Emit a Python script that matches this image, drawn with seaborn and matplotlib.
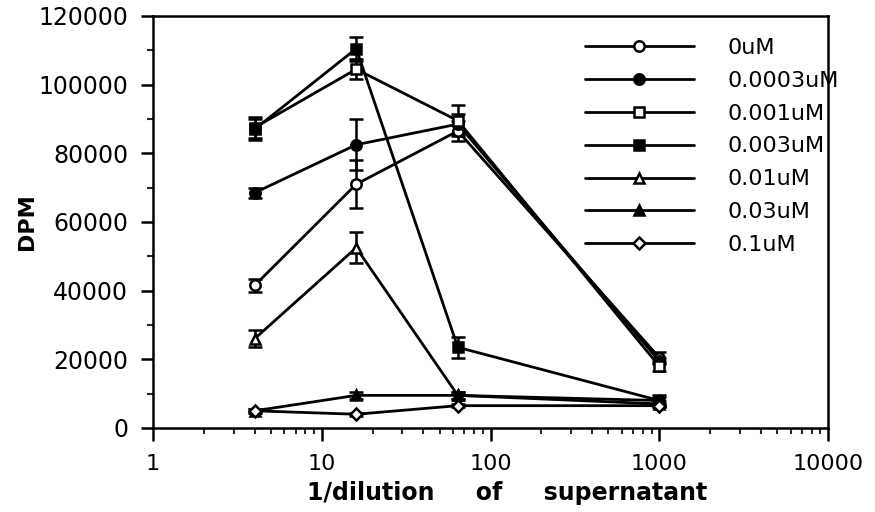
import numpy as np
import pandas as pd
import matplotlib
matplotlib.use("Agg")
import matplotlib.pyplot as plt
import seaborn as sns

# dilution factors (x) and DPM readings per concentration
dilution = [4, 16, 64, 1000]

labels = ["0uM", "0.0003uM", "0.001uM", "0.003uM", "0.01uM", "0.03uM", "0.1uM"]

dpm_0 = [41500, 71000, 86500, 20500]
dpm_00003 = [68500, 82500, 88500, 19500]
dpm_0001 = [87500, 104500, 89500, 18000]
dpm_0003 = [87000, 110500, 23500, 8000]
dpm_001 = [26000, 52500, 9500, 7000]
dpm_003 = [5000, 9500, 9500, 8000]
dpm_01 = [5000, 4000, 6500, 6500]

err_0 = [2000, 7000, 3000, 1500]
err_00003 = [1500, 7500, 3000, 1000]
err_0001 = [3000, 3000, 4500, 1500]
err_0003 = [3000, 3500, 3000, 1500]
err_001 = [2500, 4500, 1000, 1000]
err_003 = [500, 1000, 1000, 1000]
err_01 = [500, 500, 500, 500]

values = [dpm_0, dpm_00003, dpm_0001, dpm_0003, dpm_001, dpm_003, dpm_01]
errors = [err_0, err_00003, err_0001, err_0003, err_001, err_003, err_01]

markers = ["o", "o", "s", "s", "^", "^", "D"]
faces = ["white", "black", "white", "black", "white", "black", "white"]
sizes = [7.5, 7.5, 7.5, 7.5, 7.5, 7.5, 6]

df = pd.DataFrame({
    "dilution": np.tile(dilution, len(labels)),
    "dpm": np.concatenate(values),
    "err": np.concatenate(errors),
    "conc": np.repeat(labels, len(dilution)),
})

sns.set_style("ticks")
plt.rcParams["font.family"] = ["DejaVu Sans"]
plt.rcParams["text.color"] = "black"
plt.rcParams["axes.labelcolor"] = "black"

fig = plt.figure(figsize=(8.75, 5.12), dpi=100)
ax = fig.add_axes([0.1749, 0.1641, 0.7714, 0.8047])

for lab, m, fc, ms in zip(labels, markers, faces, sizes):
    sub = df[df["conc"] == lab]
    ax.errorbar(sub["dilution"], sub["dpm"], yerr=sub["err"], fmt="none",
                ecolor="black", elinewidth=1.8, capsize=5, capthick=1.8, zorder=2)
    sns.lineplot(data=sub, x="dilution", y="dpm", ax=ax, color="black",
                 linewidth=2.0, marker=m, markersize=ms, markerfacecolor=fc,
                 markeredgecolor="black", markeredgewidth=1.8, label=lab,
                 errorbar=None, zorder=3)

ax.set_xscale("log")
ax.set_xlim(1, 10000)
ax.set_ylim(0, 120000)
ax.set_xticks([1, 10, 100, 1000, 10000])
ax.set_xticklabels(["1", "10", "100", "1000", "10000"])
ax.set_yticks(np.arange(0, 120001, 20000))
ax.set_yticklabels([str(v) for v in range(0, 120001, 20000)])
ax.set_yticks(np.arange(10000, 120000, 20000), minor=True)

for s in ax.spines.values():
    s.set_linewidth(1.8)
    s.set_color("black")
ax.tick_params(axis="both", which="major", direction="out", length=9, width=1.8,
               colors="black")
ax.tick_params(axis="x", which="major", pad=10, labelsize=16)
ax.tick_params(axis="y", which="major", pad=9, labelsize=17)
ax.tick_params(axis="both", which="minor", direction="out", length=4, width=1.5)

ax.set_xlabel("1/dilution     of     supernatant", fontsize=17, fontweight="bold",
              color="black")
ax.set_ylabel("DPM", fontsize=16, fontweight="bold", color="black")
ax.xaxis.set_label_coords(0.524, -0.128)
ax.yaxis.set_label_coords(-0.172, 0.5)

ax.legend(loc="upper left", bbox_to_anchor=(0.64, 0.947), frameon=False,
          fontsize=16, handlelength=4.9, handletextpad=1.5, labelspacing=0.58,
          borderpad=0, borderaxespad=0, numpoints=1)

fig.savefig("out.png", dpi=100)
plt.close(fig)
